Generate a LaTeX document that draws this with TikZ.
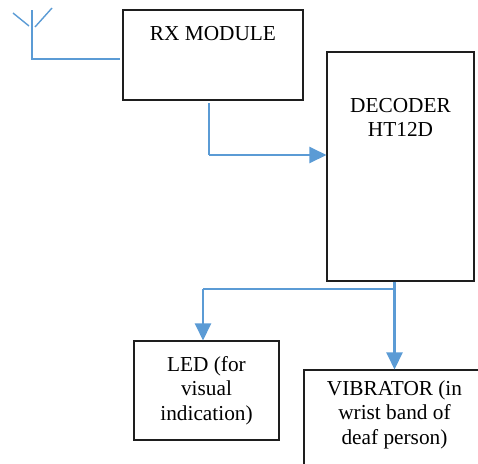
\documentclass[tikz,border=0pt]{standalone}
\usepackage{fontspec}
\setmainfont{Liberation Serif}
\usepackage{xcolor}
\definecolor{wireblue}{RGB}{91, 155, 213}
\definecolor{boxline}{RGB}{30, 30, 30}
\usetikzlibrary{arrows.meta, positioning, calc}

\begin{document}
\begin{tikzpicture}[x=1pt, y=-1pt, >={Triangle[length=17pt, width=16pt]},
    blk/.style={draw=boxline, line width=1.1pt, fill=white, inner sep=0pt},
    txt/.style={font=\fontsize{21.3pt}{24.5pt}\selectfont, align=center, inner sep=0pt},
    wire/.style={wireblue, line width=1.4pt},
    flow/.style={wireblue, line width=2.4pt, ->}]
    \useasboundingbox (0,0) rectangle (478,463);
    \clip (0,0) rectangle (478,463);
    \node[blk, minimum width=180pt, minimum height=90pt,
        label={[txt, anchor=center, yshift=-24pt]north:RX MODULE}] (rx) at (213,55) {};
    \node[blk, minimum width=147pt, minimum height=229pt,
        label={[txt, anchor=center, yshift=-66pt]north:DECODER\\HT12D}] (dec) at (400.5,166.5) {};
    \node[blk, minimum width=145pt, minimum height=99pt] (led) at (206.5,390.5) {};
    \node[txt] (ledtxt) at (led) {LED (for\\visual\\indication)};
    \node[blk, minimum width=181pt, minimum height=110pt,
        label={[txt, anchor=center, yshift=-45pt]north:VIBRATOR (in\\wrist band of\\deaf person)}] (vib) at (394.5,425) {};
    \coordinate (mast) at (32,10);
    \coordinate (feed) at (32,59);
    \draw[wire] (13,13) -- (29,26);
    \draw[wire] (52,8) -- (35,27);
    \draw[wire] (mast) -- (feed) -- (120,59);
    \coordinate (rxout) at (209,103);
    \coordinate (bend) at (209,155);
    \draw[wire] (rxout) -- (bend);
    \draw[flow] (bend) -- (bend -| dec.west);
    \coordinate (split) at (394,289);
    \coordinate (branch) at (203,289);
    \draw[flow] (dec.south -| vib.north) -- (vib.north);
    \draw[wire] (split) -- (branch);
    \draw[flow] (branch) -- (branch |- led.north);
\end{tikzpicture}
\end{document}
